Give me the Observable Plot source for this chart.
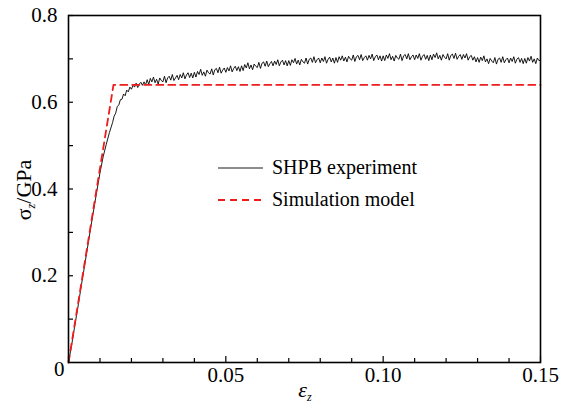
<!DOCTYPE html>
<html><head><meta charset="utf-8">
<script src="https://cdn.jsdelivr.net/npm/d3@7"></script>
<script src="https://cdn.jsdelivr.net/npm/@observablehq/plot@0.6"></script>
<style>
body{margin:0;background:#fff}
#chart svg, #chart svg text, #chart svg tspan { font-family: "Liberation Serif", "Times New Roman", serif !important; }
</style>
</head><body><div id="chart"></div>
<script>
// SHPB experiment: elastic rise (strain, stress GPa)
const riseStrain = [0, 0.001, 0.002, 0.003, 0.004, 0.005, 0.006, 0.007, 0.008, 0.009, 0.010, 0.011, 0.012, 0.013, 0.014, 0.0145, 0.015, 0.0155, 0.016, 0.0165, 0.017, 0.0175, 0.018, 0.0185, 0.019, 0.0195];
const riseStress = [0, 0.040, 0.085, 0.128, 0.174, 0.218, 0.263, 0.308, 0.352, 0.395, 0.437, 0.474, 0.503, 0.530, 0.553, 0.568, 0.575, 0.590, 0.594, 0.606, 0.607, 0.619, 0.615, 0.628, 0.624, 0.635];
// SHPB experiment: plateau, sampled every 0.0005 strain from 0.020 to 0.150
const plateauStart = 0.020, plateauStep = 0.0005;
const plateauStress = [
0.630,0.639,0.635,0.644,0.634,0.642,0.646,0.639,0.647,0.640,
0.652,0.641,0.655,0.647,0.658,0.645,0.653,0.642,0.656,0.650,
0.647,0.660,0.645,0.656,0.660,0.651,0.664,0.650,0.656,0.662,
0.652,0.664,0.656,0.668,0.654,0.663,0.668,0.657,0.667,0.656,
0.669,0.658,0.671,0.664,0.676,0.662,0.670,0.660,0.674,0.668,
0.665,0.677,0.663,0.675,0.678,0.668,0.681,0.667,0.674,0.679,
0.669,0.680,0.672,0.684,0.670,0.678,0.683,0.673,0.682,0.671,
0.684,0.673,0.687,0.679,0.691,0.677,0.686,0.675,0.688,0.683,
0.680,0.692,0.678,0.690,0.693,0.683,0.695,0.682,0.689,0.694,
0.684,0.695,0.687,0.698,0.684,0.693,0.697,0.686,0.696,0.684,
0.696,0.685,0.698,0.691,0.701,0.688,0.697,0.686,0.699,0.693,
0.690,0.702,0.688,0.699,0.702,0.692,0.705,0.691,0.698,0.702,
0.691,0.702,0.694,0.705,0.690,0.699,0.704,0.693,0.702,0.690,
0.703,0.692,0.705,0.697,0.707,0.695,0.704,0.693,0.706,0.700,
0.697,0.709,0.694,0.705,0.708,0.698,0.710,0.696,0.703,0.707,
0.697,0.708,0.700,0.711,0.696,0.705,0.709,0.698,0.707,0.695,
0.707,0.696,0.709,0.701,0.712,0.698,0.706,0.695,0.708,0.702,
0.699,0.711,0.696,0.707,0.710,0.700,0.712,0.698,0.705,0.709,
0.698,0.709,0.701,0.712,0.697,0.706,0.710,0.699,0.708,0.696,
0.709,0.698,0.711,0.703,0.714,0.700,0.708,0.697,0.710,0.704,
0.700,0.712,0.697,0.708,0.711,0.701,0.713,0.699,0.706,0.710,
0.699,0.710,0.702,0.712,0.697,0.705,0.708,0.697,0.705,0.693,
0.703,0.692,0.704,0.696,0.707,0.693,0.700,0.689,0.701,0.695,
0.691,0.703,0.688,0.699,0.702,0.692,0.705,0.691,0.698,0.702,
0.691,0.702,0.694,0.705,0.690,0.699,0.703,0.692,0.701,0.689,
0.701,0.690,0.703,0.695,0.706,0.692,0.700,0.689,0.702,0.696,
0.697];
// Simulation model (bilinear)
const modelStrain = [0, 0.0143, 0.15];
const modelStress = [0, 0.64, 0.64];
// Ticks
const xMajorTicks = [0.05, 0.10, 0.15];
const xMinorTicks = [0.01, 0.02, 0.03, 0.04, 0.06, 0.07, 0.08, 0.09, 0.11, 0.12, 0.13, 0.14];
const yMajorTicks = [0.2, 0.4, 0.6, 0.8];
const yMinorTicks = [0.1, 0.3, 0.5, 0.7];
const legendLabels = ["SHPB experiment", "Simulation model"];

const W = 572, H = 407;
const mL = 68, mR = 32, mT = 15, mB = 45;
const plotW = W - mL - mR, plotH = H - mT - mB;

const experiment = riseStrain.map((s, i) => ({strain: s, stress: riseStress[i]}))
  .concat(plateauStress.map((v, i) => ({strain: plateauStart + i * plateauStep, stress: v})));
const model = modelStrain.map((s, i) => ({strain: s, stress: modelStress[i]}));

const font = "Liberation Serif";
const red = "#ee1c1c";

const chart = Plot.plot({
  width: W, height: H,
  marginLeft: mL, marginRight: mR, marginTop: mT, marginBottom: mB,
  style: {fontFamily: font, fontSize: "20px", color: "black", background: "white"},
  x: {domain: [0, 0.15], label: null},
  y: {domain: [0, 0.8], label: null},
  marks: [
    Plot.line(experiment, {x: "strain", y: "stress", stroke: "black", strokeWidth: 0.9}),
    Plot.line(model, {x: "strain", y: "stress", stroke: red, strokeWidth: 1.8, strokeDasharray: "7,5"}),
    Plot.ruleX(xMajorTicks.concat([0]), {stroke: "black", strokeWidth: 1.2, insetTop: plotH - 6}),
    Plot.ruleX(xMinorTicks, {stroke: "black", strokeWidth: 1.2, insetTop: plotH - 4}),
    Plot.ruleY(yMajorTicks, {stroke: "black", strokeWidth: 1.2, insetRight: plotW - 5}),
    Plot.ruleY(yMinorTicks, {stroke: "black", strokeWidth: 1.2, insetRight: plotW - 5}),
    Plot.axisX({ticks: xMajorTicks, tickSize: 0, tickPadding: 5, tickFormat: d => d.toFixed(2), fontSize: 21}),
    Plot.axisY({ticks: yMajorTicks, tickSize: 0, tickPadding: 11, tickFormat: d => d.toFixed(1), fontSize: 21}),
    Plot.axisY({ticks: [0], tickSize: 0, tickPadding: 4, dy: 7, tickFormat: () => "0", fontSize: 21}),
    Plot.frame({stroke: "black", strokeWidth: 1.6})
  ]
});
document.getElementById("chart").appendChild(chart);

const svg = d3.select(chart);
// Legend
const lg = svg.append("g").attr("font-family", font).attr("font-size", 20).attr("text-anchor", "start");
lg.append("line").attr("x1", 218).attr("x2", 263).attr("y1", 168).attr("y2", 168)
  .attr("stroke", "black").attr("stroke-width", 0.9);
lg.append("text").attr("x", 272).attr("y", 174).text(legendLabels[0]);
lg.append("line").attr("x1", 218).attr("x2", 263).attr("y1", 200).attr("y2", 200)
  .attr("stroke", red).attr("stroke-width", 1.8).attr("stroke-dasharray", "7,5");
lg.append("text").attr("x", 272).attr("y", 206).text(legendLabels[1]);

// Axis titles
const yt = svg.append("text").attr("font-family", font).attr("font-size", 22)
  .attr("text-anchor", "middle").attr("transform", "translate(31,190) rotate(-90)");
yt.append("tspan").text("σ");
yt.append("tspan").attr("font-size", 12).attr("font-style", "italic").attr("dy", 4).text("z");
yt.append("tspan").attr("dy", -4).text("/GPa");

const xt = svg.append("text").attr("font-family", font).attr("font-size", 22)
  .attr("text-anchor", "middle").attr("x", 305).attr("y", 397);
xt.append("tspan").attr("font-style", "italic").text("ε");
xt.append("tspan").attr("font-size", 12).attr("font-style", "italic").attr("dy", 4).text("z");
</script>
</body></html>
